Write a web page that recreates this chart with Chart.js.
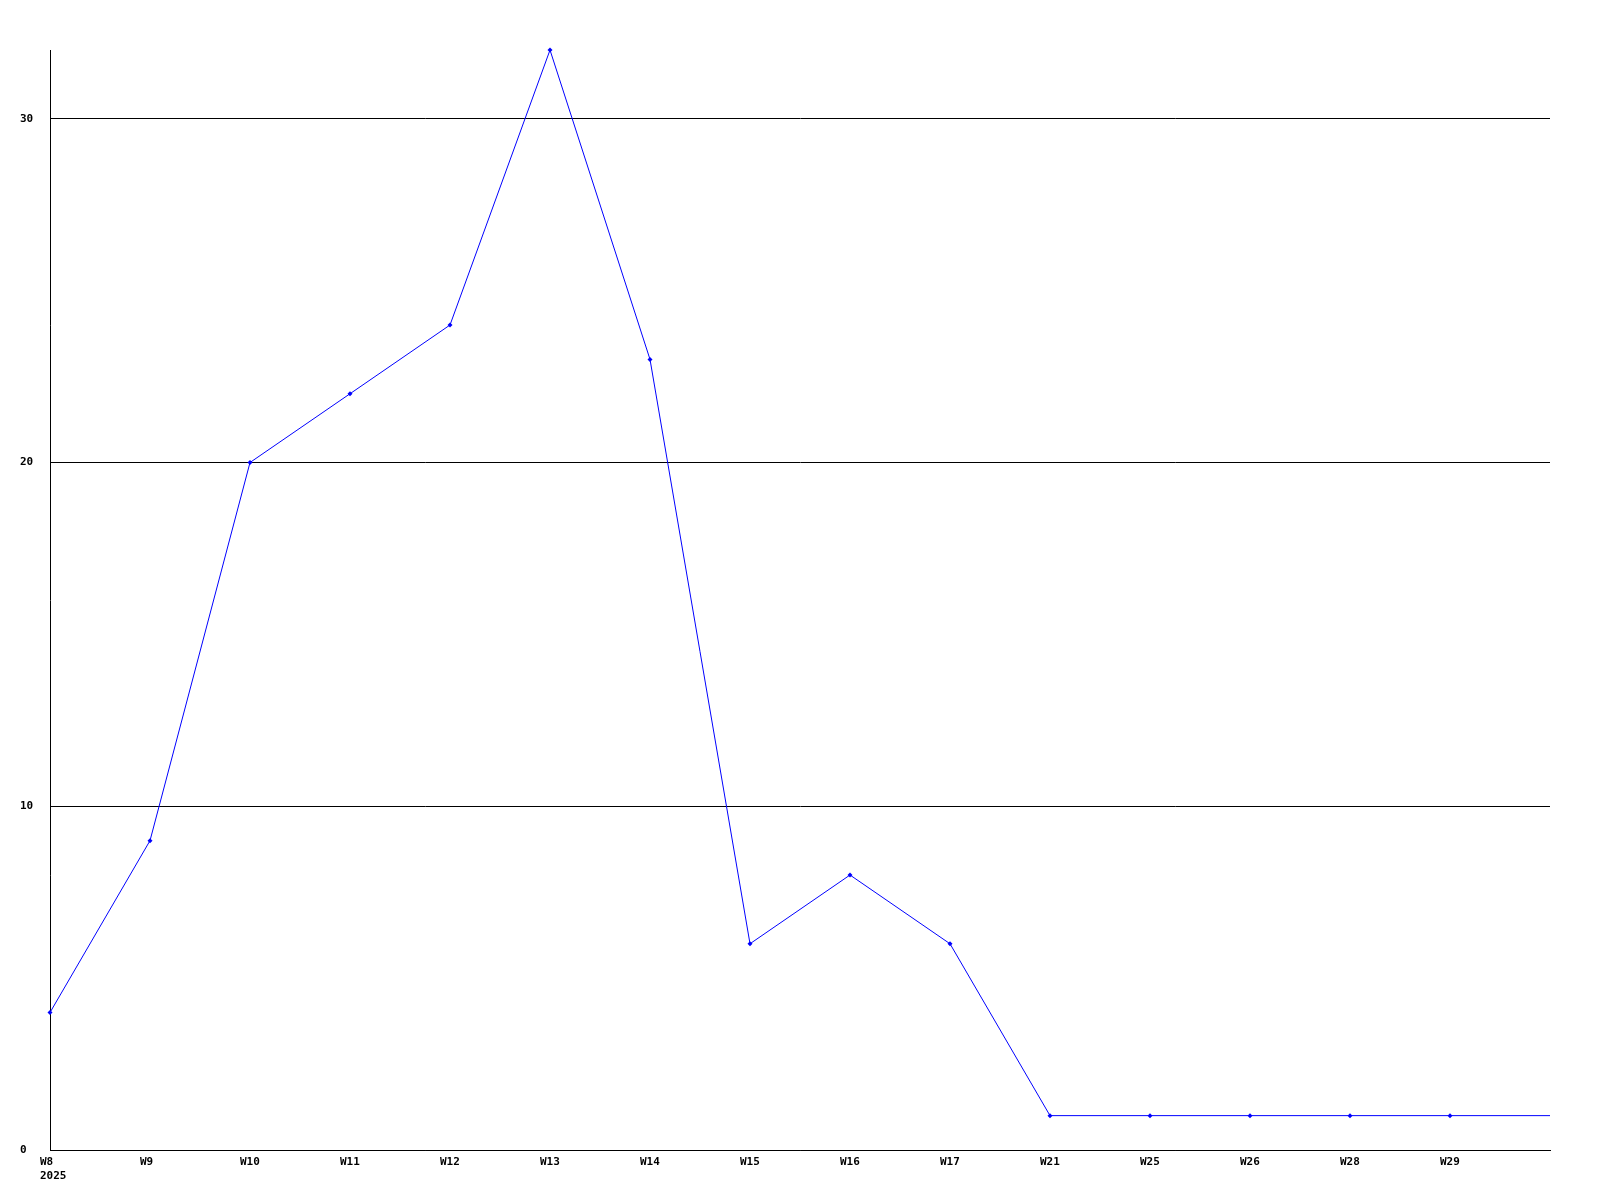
<!DOCTYPE html>
<html>
<head>
<meta charset="utf-8">
<script src="https://cdn.jsdelivr.net/npm/chart.js@4"></script>
<style>
  html, body { margin: 0; padding: 0; background: #fff; }
  #wrap { width: 1600px; height: 1200px; }
</style>
</head>
<body>
<div id="wrap"><canvas id="chart"></canvas></div>
<script>
// weeks shown on the x axis (last one is the unlabeled edge of the plot)
const weeks = [['W8', '2025'], 'W9', 'W10', 'W11', 'W12', 'W13', 'W14', 'W15', 'W16', 'W17', 'W21', 'W25', 'W26', 'W28', 'W29', ''];
const counts = [4, 9, 20, 22, 24, 32, 23, 6, 8, 6, 1, 1, 1, 1, 1, 1];
const yTicks = [0, 10, 20, 30];
const yMax = 32;

// labels in the original start a little left of their tick
const shiftLabels = {
  id: 'shiftLabels',
  beforeDraw(chart) {
    const items = chart.scales.x.getLabelItems();
    if (items._shifted) return;
    items.forEach(it => { it.options.translation[0] -= 10; });
    items._shifted = true;
  }
};

const ctx = document.getElementById('chart');

new Chart(ctx, {
  type: 'line',
  data: {
    labels: weeks,
    datasets: [{
      data: counts,
      borderColor: '#0000ff',
      backgroundColor: '#0000ff',
      borderWidth: 1,
      tension: 0,
      clip: false,
      pointStyle: 'rectRot',
      pointRadius: c => c.dataIndex === counts.length - 1 ? 0 : 2.5,
      pointBorderWidth: 0
    }]
  },
  options: {
    responsive: true,
    maintainAspectRatio: false,
    animation: false,
    layout: { padding: { left: 20, right: 50, top: 50, bottom: 0 } },
    plugins: {
      legend: { display: false },
      tooltip: { enabled: false }
    },
    scales: {
      x: {
        offset: false,
        grid: { display: false, drawTicks: false },
        border: { color: '#000', width: 1 },
        ticks: {
          color: '#000',
          align: 'start',
          font: { family: 'DejaVu Sans Mono', weight: 'bold', size: 11 },
          padding: 6,
          maxRotation: 0,
          autoSkip: false
        },
        afterFit: s => { s.height = 50; }
      },
      y: {
        min: 0,
        max: yMax,
        afterBuildTicks: s => { s.ticks = yTicks.map(v => ({ value: v })); },
        grid: { color: '#000', drawTicks: false, lineWidth: 1 },
        border: { color: '#000', width: 1 },
        ticks: {
          color: '#000',
          crossAlign: 'far',
          padding: 16,
          font: { family: 'DejaVu Sans Mono', weight: 'bold', size: 11 }
        },
        afterFit: s => { s.width = 30; }
      }
    }
  },
  plugins: [shiftLabels]
});
</script>
</body>
</html>
